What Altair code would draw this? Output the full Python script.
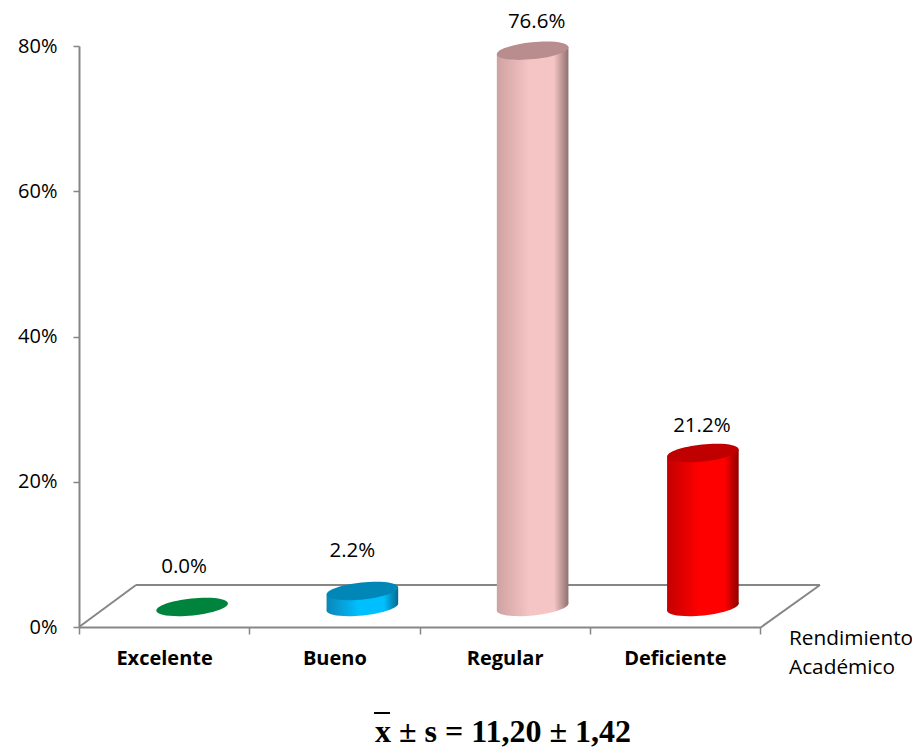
import altair as alt
import pandas as pd

categories = ["Excelente", "Bueno", "Regular", "Deficiente"]
values = [0.0, 2.2, 76.6, 21.2]
labels = ["0.0%", "2.2%", "76.6%", "21.2%"]
y_ticks = [0, 20, 40, 60, 80]

# side gradient (left, bright, right) and lid colour per cylinder
side_left = ["#00843d", "#0a86b8", "#cfa2a2", "#c40000"]
side_mid = ["#00843d", "#00bfff", "#f5c4c4", "#ff0000"]
side_right = ["#00843d", "#06688f", "#8f7070", "#8f0000"]
lids = ["#00843d", "#0087b8", "#b98d8d", "#c00000"]

label_dx = [20, 18, 32, 27]
label_dy = [-60, -60, -49, -47]

FONT = "Open Sans"
GREY = "#868686"
ELLIPSE = "M -1 0 A 1 0.235 0 1 1 1 0 A 1 0.235 0 1 1 -1 0 Z"
CYL_W = 72
CYL_SIZE = CYL_W ** 2
DX, DY = 28, -20
BAND_PX = 681 / 4
PX_PER_UNIT = 581 / 80
HALF_W = 35.8 / BAND_PX   # half cylinder width in band units
TILT = 3.6 / PX_PER_UNIT  # rise of the lid's tips in value units

df = pd.DataFrame({"cat": categories, "value": values, "label": labels})

x_scale = alt.Scale(domain=categories, paddingInner=0, paddingOuter=0)
x_axis = alt.X(
    "cat:N",
    sort=categories,
    scale=x_scale,
    axis=alt.Axis(
        title=None, labelAngle=0, labelFont=FONT, labelFontSize=20, labelFontWeight="bold",
        labelColor="#000000", labelPadding=14, domainColor=GREY, domainWidth=2,
        tickColor=GREY, tickWidth=1.5, tickSize=7, tickBand="extent",
    ),
)
x = alt.X("cat:N", sort=categories, scale=x_scale, axis=None)
y_scale = alt.Scale(domain=[0, 80], nice=False)
y_axis = alt.Axis(
    title=None, values=y_ticks, labelExpr="datum.value + '%'", labelFont=FONT, labelFontSize=20,
    labelColor="#000000", labelPadding=16, domainColor=GREY, domainWidth=2,
    tickColor=GREY, tickWidth=1.5, tickSize=6, grid=False,
)
y = alt.Y("value:Q", stack=None, scale=y_scale, axis=y_axis)


def seg(x1, y1, x2, y2):
    return alt.Chart(df.iloc[[0]]).mark_rule(color=GREY, strokeWidth=2).encode(
        x=alt.value(x1), y=alt.value(y1), x2=alt.value(x2), y2=alt.value(y2)
    )


def note(text, px, py, **kw):
    return alt.Chart(df.iloc[[0]]).mark_text(text=text, **kw).encode(x=alt.value(px), y=alt.value(py))


layers = [
    seg(0, 581, 57, 539),
    seg(57, 539, 741, 539),
    seg(681, 582, 741, 539),
    alt.Chart(df).mark_point(opacity=0).encode(x=x_axis, y=y),
]

for i, name in enumerate(categories):
    sel = alt.Chart(df).transform_filter(alt.datum.cat == name)
    grad = alt.Gradient(
        gradient="linear", x1=0, x2=1, y1=0, y2=0,
        stops=[
            alt.GradientStop(offset=0, color=side_left[i]),
            alt.GradientStop(offset=0.45, color=side_mid[i]),
            alt.GradientStop(offset=0.8, color=side_mid[i]),
            alt.GradientStop(offset=1, color=side_right[i]),
        ],
    )
    if values[i] > 0:
        layers.append(
            sel.transform_calculate(value="0").mark_point(
                shape=ELLIPSE, size=CYL_SIZE, filled=True, fill=grad, opacity=1, strokeWidth=0,
                angle=354, xOffset=DX, yOffset=DY,
            ).encode(x=x, y=y)
        )
        side = pd.DataFrame({
            "pos": [i + 0.5 - HALF_W, i + 0.5 + HALF_W],
            "top": [values[i] - TILT, values[i] + TILT],
            "bottom": [-TILT, TILT],
        })
        layers.append(
            alt.Chart(side).mark_area(fill=grad, xOffset=DX, yOffset=DY, y2Offset=DY, clip=False).encode(
                x=alt.X("pos:Q", scale=alt.Scale(domain=[0, 4], nice=False, zero=False), axis=None),
                y=alt.Y("top:Q", stack=None, scale=y_scale, axis=y_axis),
                y2=alt.Y2("bottom:Q"),
            )
        )
    layers.append(
        sel.mark_point(
            shape=ELLIPSE, size=CYL_SIZE, filled=True, fill=lids[i], opacity=1, strokeWidth=0,
            angle=354, xOffset=DX, yOffset=DY,
        ).encode(x=x, y=y)
    )
    layers.append(
        sel.mark_text(font=FONT, fontSize=20.5, color="#000000", dx=label_dx[i], dy=label_dy[i]).encode(
            x=x, y=y, text="label:N"
        )
    )

layers += [
    note("Rendimiento", 710, 593, font=FONT, fontSize=20.8, align="left", color="#000000"),
    note("Académico", 710, 622, font=FONT, fontSize=20.8, align="left", color="#000000"),
    note("x ± s = 11,20 ± 1,42", 424, 695.5, font="Liberation Serif", fontSize=32, fontWeight="bold",
         align="center", baseline="alphabetic", color="#000000"),
    alt.Chart(df.iloc[[0]]).mark_rule(color="#000000", strokeWidth=2).encode(
        x=alt.value(295), x2=alt.value(311), y=alt.value(667)
    ),
]

chart = (
    alt.layer(*layers)
    .resolve_scale(x="independent")
    .properties(
        width=681,
        height=581,
        background="#ffffff",
        padding={"left": 71, "top": 38, "right": 152, "bottom": 120},
        autosize=alt.AutoSizeParams(type="none"),
    )
    .configure_view(stroke=None)
)

chart.save("out.html", embed_options={"renderer": "svg", "actions": False})
